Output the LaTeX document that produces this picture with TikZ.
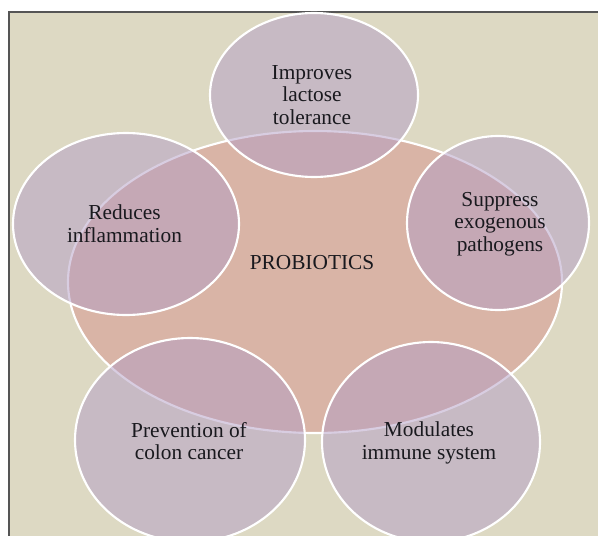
\documentclass[tikz,border=0pt]{standalone}
\usepackage{fontspec}
\setmainfont{Liberation Serif}
\usetikzlibrary{shapes.geometric}
\definecolor{bgbeige}{RGB}{221,217,195}
\definecolor{framegray}{RGB}{85,85,85}
\definecolor{coresalmon}{RGB}{217,180,166}
\definecolor{satpurple}{RGB}{179,157,197}
\definecolor{txtdark}{RGB}{25,25,30}
\tikzset{
  core/.style={ellipse, draw=white, line width=1.6pt, fill=coresalmon, inner sep=0pt, outer sep=0pt},
  sat/.style={ellipse, draw=white, line width=1.6pt, fill=satpurple, fill opacity=0.5, draw opacity=1, inner sep=0pt, outer sep=0pt},
  lbl/.style={text=txtdark, align=center, font=\fontsize{16}{17}\selectfont, inner sep=0pt}
}
\begin{document}
\begin{tikzpicture}[x=0.75pt, y=-0.75pt]
\useasboundingbox (0,0) rectangle (598,535);
% frame
\draw[fill=bgbeige, draw=framegray, line width=1.2pt] (9,12) rectangle (605,545);
% core
\node[core, minimum width=370.5pt, minimum height=226.5pt] (core) at (315,282) {};
\node[lbl] (coretext) at (312,263) {PROBIOTICS};
% satellites
\node[sat, minimum width=156pt, minimum height=123pt] (top) at (314,95) {};
\node[lbl] (toptext) at (312,95) {Improves\\lactose\\tolerance};
\node[sat, minimum width=169.5pt, minimum height=136.5pt] (left) at (126,224) {};
\node[lbl] (lefttext) at (124.5,224) {Reduces\\inflammation};
\node[sat, minimum width=136.5pt, minimum height=130.5pt] (right) at (498,223) {};
\node[lbl] (righttext) at (500,224) {Suppress\\exogenous\\pathogens};
\node[sat, minimum width=172.5pt, minimum height=153pt] (botleft) at (190,440) {};
\node[lbl] (botlefttext) at (189,441) {Prevention of\\colon cancer};
\node[sat, minimum width=163.5pt, minimum height=150pt] (botright) at (431,442) {};
\node[lbl] (botrighttext) at (429,443) {Modulates\\immune system};
\end{tikzpicture}
\end{document}
